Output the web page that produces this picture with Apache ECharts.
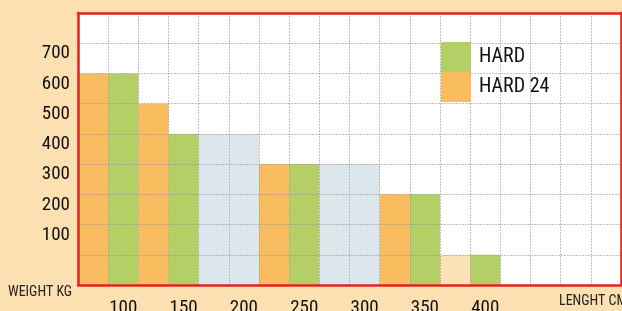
<!DOCTYPE html>
<html>
<head>
<meta charset="utf-8">
<script src="https://cdn.jsdelivr.net/npm/echarts@6/dist/echarts.min.js"></script>
<style>
  html, body { margin: 0; padding: 0; background: #fce0b1; }
  #chart { width: 622px; height: 311px; }
</style>
</head>
<body>
<div id="chart"></div>
<script>
// lengths in cm, one column every 25 cm
var lengths = ['75', '100', '125', '150', '175', '200', '225', '250', '275', '300',
               '325', '350', '375', '400', '425', '450', '475', '500'];
var lengthTicks = ['100', '150', '200', '250', '300', '350', '400'];
var weightTicks = [100, 200, 300, 400, 500, 600, 700];

// max weight (kg) per column, null = no bar
var hard =   [null, 600, null, 400, null, null, null, 300, null, null, null, 200, null, 0, null, null, null, null];
var hard24 = [600, null, 500, null, null, null, 300, null, null, null, 200, null, null, null, null, null, null, null];
var common = [null, null, null, null, 400, 400, null, null, 300, 300, null, null, null, null, null, null, null, null];
var light =  [null, null, null, null, null, null, null, null, null, null, null, null, 0, null, null, null, null, null];

// bottom row of the grid has no label, bars start below the "0" line
var baseRow = 100;
function shift(arr) {
    return arr.map(function (v) { return v === null ? null : v + baseRow; });
}

var font = '"Roboto Condensed", "Open Sans Condensed", sans-serif';
var red = '#e3231d';

var myChart = echarts.init(document.getElementById('chart'));

var gridLine = { show: true, lineStyle: { color: 'rgba(150,150,150,0.6)', type: [2, 1], width: 1 } };

function barSeries(name, data, color) {
    return {
        name: name,
        type: 'bar',
        data: shift(data),
        barWidth: '100%',
        barGap: '-100%',
        itemStyle: { color: color },
        silent: true
    };
}

var option = {
    backgroundColor: '#fce0b1',
    animation: false,
    textStyle: { fontFamily: font },
    grid: {
        left: 78, right: 1, top: 13, bottom: 26,
        outerBoundsMode: 'none',
        containLabel: false,
        show: true, backgroundColor: '#ffffff', borderWidth: 0
    },
    legend: {
        orient: 'vertical',
        left: 441, top: 42,
        padding: 0,
        itemWidth: 30, itemHeight: 30, itemGap: 0,
        icon: 'rect',
        data: ['HARD', 'HARD 24'],
        textStyle: { fontFamily: font, fontSize: 20, color: '#111', padding: [0, 0, 0, 3] },
        selectedMode: false
    },
    xAxis: [{
        type: 'category',
        data: lengths,
        z: 3,
        axisLine: { show: true, onZero: false, lineStyle: { color: red, width: 2.5 } },
        axisTick: { show: false },
        splitLine: gridLine,
        axisLabel: {
            interval: 0, margin: 14,
            fontFamily: font, fontSize: 19, color: '#111',
            formatter: function (v) { return lengthTicks.indexOf(v) >= 0 ? v : ''; }
        }
    }, {
        type: 'category',
        data: lengths,
        position: 'top',
        z: 3,
        axisLine: { show: true, onZero: false, lineStyle: { color: red, width: 2.5 } },
        axisTick: { show: false },
        axisLabel: { show: false }
    }],
    yAxis: [{
        type: 'value',
        min: 0, max: 900, interval: 100,
        z: 3,
        axisLine: { show: true, onZero: false, lineStyle: { color: red, width: 2.5 } },
        axisTick: { show: false },
        splitLine: gridLine,
        axisLabel: {
            margin: 8,
            fontFamily: font, fontSize: 19, color: '#111',
            verticalAlign: 'top',
            padding: [1, 0, 0, 0],
            formatter: function (v) {
                var w = v - baseRow;
                return weightTicks.indexOf(w) >= 0 ? String(w) : '';
            }
        }
    }, {
        type: 'value',
        min: 0, max: 900, interval: 100,
        position: 'right',
        z: 3,
        axisLine: { show: true, onZero: false, lineStyle: { color: red, width: 2.5 } },
        axisTick: { show: false },
        splitLine: { show: false },
        axisLabel: { show: false }
    }],
    graphic: [{
        type: 'text', left: 8, top: 285,
        style: { text: 'WEIGHT KG', font: '14px ' + font, fill: '#222' }
    }, {
        type: 'text', left: 559, top: 294,
        style: { text: 'LENGHT CM', font: '14px ' + font, fill: '#222' }
    }],
    series: [
        barSeries('HARD', hard, '#b4cf66'),
        barSeries('HARD 24', hard24, '#f9bd5f'),
        barSeries('common', common, '#dce6ed'),
        barSeries('light', light, '#fde2b6')
    ]
};

myChart.setOption(option);
</script>
</body>
</html>
